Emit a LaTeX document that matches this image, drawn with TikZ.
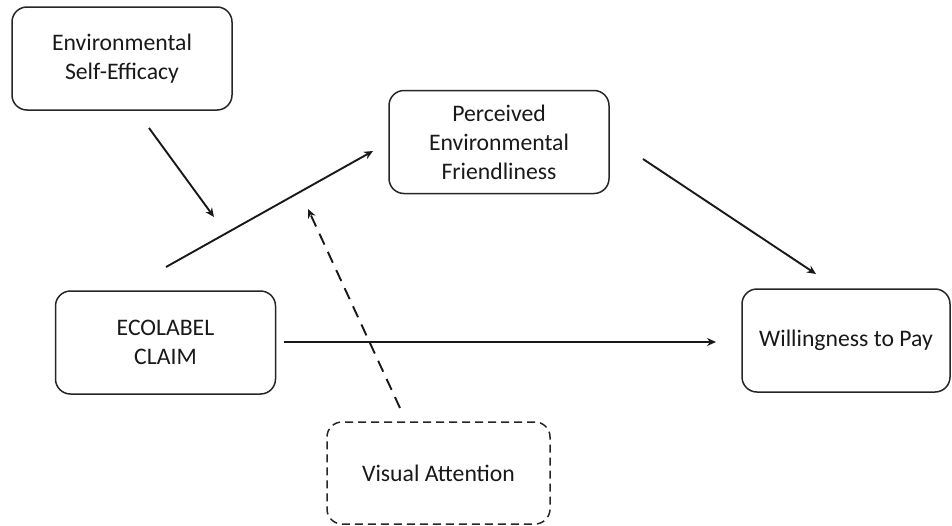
\documentclass[tikz,border=0pt]{standalone}
\usepackage{fontspec}
\setmainfont{Carlito}
\usetikzlibrary{arrows.meta}
\begin{document}
\begin{tikzpicture}[x=0.5pt,y=-0.5pt,
  box/.style={draw=black!85, line width=0.75pt, rounded corners=7.5pt, align=center,
    font=\fontsize{11.85}{14.5}\selectfont, text=black!90, inner sep=0pt,
    minimum width=110pt, minimum height=51.5pt},
  dbox/.style={box, dash pattern=on 4pt off 2.5pt},
  conn/.style={line width=0.95pt, black!90, -{Stealth[length=4.5pt,width=4pt]}},
  dconn/.style={conn, dash pattern=on 6pt off 4pt},
]
\useasboundingbox (0,0) rectangle (952,525);
\fill[white] (0,0) rectangle (952,525);

\node[box] (ese) at (122,58.5) {Environmental\\Self-Efficacy};
\node[box] (pef) at (499,142) {Perceived\\Environmental\\Friendliness};
\node[box] (eco) at (165.5,342.5) {ECOLABEL\\CLAIM};
\node[box, minimum width=104pt] (wtp) at (846,340.5) {Willingness to Pay};
\node[dbox, minimum width=111.5pt, minimum height=51pt] (va) at (438.5,473) {Visual Attention};

\coordinate (a1) at (149,128);
\coordinate (a2) at (214,217);
\coordinate (b1) at (166,267);
\coordinate (b2) at (373,151);
\coordinate (c1) at (400,408);
\coordinate (c2) at (308,209);
\coordinate (d1) at (643,159);
\coordinate (d2) at (816,274);
\coordinate (e1) at (284,342);
\coordinate (e2) at (716,342);

\draw[conn] (a1) -- (a2);
\draw[conn] (b1) -- (b2);
\draw[dconn] (c1) -- (c2);
\draw[conn] (d1) -- (d2);
\draw[conn] (e1) -- (e2);
\end{tikzpicture}
\end{document}
